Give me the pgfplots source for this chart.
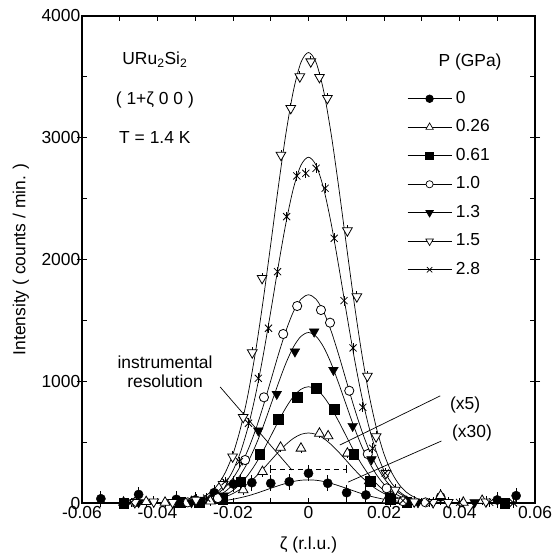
\documentclass[border=0pt]{standalone}
\usepackage{fontspec}
\setmainfont{Liberation Sans}
\usepackage{pgfplots}
\usepackage{pgfplotstable}
\pgfplotsset{compat=1.18}
\newcommand\fs{\fontsize{17.5}{19}\selectfont}

% fitted curves
\pgfplotstableread{
z      c0  c026 c061 c10  c13  c15  c28
-0.060 0   0    0    0    0    0    0
-0.034 1   2    2    4    2    6    3
-0.030 3   6    7    14   10   25   14
-0.028 5   11   12   27   18   48   28
-0.026 9   20   23   47   33   87   52
-0.024 14  32   39   80   58   152  95
-0.022 21  51   65   131  96   253  163
-0.020 31  78   104  204  153  403  267
-0.018 44  114  159  306  233  615  419
-0.016 59  160  231  439  339  896  626
-0.014 78  216  322  603  473  1249 892
-0.012 99  280  430  795  630  1666 1213
-0.010 121 349  549  1005 805  2126 1573
-0.008 142 418  670  1217 982  2595 1946
-0.006 161 480  782  1412 1147 3031 2296
-0.004 177 531  874  1571 1281 3386 2584
-0.002 187 564  934  1674 1369 3619 2774
0.000  190 575  955  1710 1400 3700 2840
0.002  187 564  934  1674 1369 3619 2774
0.004  177 531  874  1571 1281 3386 2584
0.006  161 480  782  1412 1147 3031 2296
0.008  142 418  670  1217 982  2595 1946
0.010  121 349  549  1005 805  2126 1573
0.012  99  280  430  795  630  1666 1213
0.014  78  216  322  603  473  1249 892
0.016  59  160  231  439  339  896  626
0.018  44  114  159  306  233  615  419
0.020  31  78   104  204  153  403  267
0.022  21  51   65   131  96   253  163
0.024  14  32   39   80   58   152  95
0.026  9   20   23   47   33   87   52
0.028  5   11   12   27   18   48   28
0.030  3   6    7    14   10   25   14
0.034  1   2    2    4    2    6    3
0.060  0   0    0    0    0    0    0
}\fits

\pgfplotstableread{
z I e
-0.055 35 65
-0.045 70 65
-0.035 30 65
-0.030 25 65
-0.025 85 65
-0.0199 156 65
-0.0181 175 65
-0.015 167 65
-0.010 162 65
-0.0051 175 65
0.000 244 65
0.0051 162 65
0.0101 85 65
0.0152 66 65
0.0216 30 65
0.035 50 65
0.050 25 65
0.055 60 65
}\dzero

\pgfplotstableread{
z I e
-0.049 5 40
-0.043 10 40
-0.038 5 40
-0.031 10 40
-0.026 15 40
-0.0173 107 40
-0.0122 257 40
-0.0074 457 40
-0.002 449 40
0.0029 572 40
0.0052 550 40
0.0103 408 40
0.0161 181 40
0.0207 25 40
0.026 10 40
0.035 60 40
0.041 5 40
0.046 20 40
}\dtwosix

\pgfplotstableread{
z I
-0.049 0
-0.034 5
-0.029 5
-0.0227 30
-0.018 175
-0.013 402
-0.008 687
-0.003 868
0.002 942
0.0068 770
0.0119 402
0.0163 180
0.0216 30
0.026 5
0.052 0
}\dsixone

\pgfplotstableread{
z I e
-0.046 5 30
-0.032 5 30
-0.024 40 30
-0.0168 353 30
-0.0118 868 30
-0.0067 1388 30
-0.003 1618 30
0.0033 1585 30
0.0057 1481 30
0.0108 922 30
0.0157 402 30
0.0207 121 30
0.025 15 30
0.031 5 30
}\done

\pgfplotstableread{
z I
-0.045 5
-0.031 5
-0.0225 60
-0.0133 594
-0.0084 895
-0.0036 1243
0.0015 1407
0.0066 1092
0.0117 632
0.0167 359
0.0215 60
0.029 5
0.044 5
}\dthree

\pgfplotstableread{
z I e
-0.046 5 45
-0.041 10 45
-0.036 5 45
-0.0298 25 45
-0.0226 153 45
-0.0201 380 45
-0.0173 704 45
-0.0149 1235 45
-0.0123 1846 45
-0.0073 2858 45
-0.0047 3242 45
-0.0023 3502 45
0.0006 3625 45
0.0029 3497 45
0.005 3324 45
0.0103 2237 45
0.0128 1695 45
0.0156 1043 45
0.0179 545 45
0.0205 244 45
0.023 107 45
0.028 10 45
0.033 5 45
0.037 5 45
0.047 10 45
}\dfive

\pgfplotstableread{
z I e
-0.047 5 40
-0.027 40 40
-0.0221 175 40
-0.0183 339 40
-0.0159 655 40
-0.0133 1024 40
-0.0106 1435 40
-0.0082 1900 40
-0.0058 2352 40
-0.0031 2686 40
-0.0007 2708 40
0.002 2749 40
0.0044 2585 40
0.0068 2174 40
0.0094 1662 40
0.0118 1274 40
0.0144 786 40
0.017 449 40
0.0203 246 40
0.025 20 40
0.032 5 40
0.040 5 40
0.048 5 40
0.0543 0 40
}\deight

\begin{document}
\begin{tikzpicture}
\useasboundingbox (-82bp,-55bp) rectangle (471bp,503bp);
\begin{axis}[
  scale only axis, width=453bp, height=487bp,
  xmin=-0.06, xmax=0.06, ymin=0, ymax=4000,
  clip=false,
  xtick={-0.06,-0.04,-0.02,0,0.02,0.04,0.06},
  xticklabels={-0.06,-0.04,-0.02,0,0.02,0.04,0.06},
  minor x tick num=1,
  ytick={0,500,1000,1500,2000,2500,3000,3500,4000},
  yticklabels={0,,1000,,2000,,3000,,4000},
  extra y ticks={1000,2000,3000},
  extra y tick labels={},
  extra y tick style={tick align=outside},
  tick align=inside,
  major tick length=5bp, minor tick length=5bp,
  scaled x ticks=false, scaled y ticks=false,
  /pgf/number format/assume math mode=true,
  tick label style={font=\fs},
  yticklabel style={inner sep=1.5bp},
  label style={font=\fs},
  xlabel={ζ (r.l.u.)}, ylabel={Intensity ( counts / min. )},
  xlabel style={at={(axis description cs:0.5,-0.086)}, anchor=center},
  ylabel style={at={(axis description cs:-0.135,0.5)}, anchor=center},
  axis line style={line width=1.2bp},
  every tick/.style={black, line width=1bp},
  legend style={draw=none, fill=none, font=\fs, inner sep=0pt,
    at={(axis cs:0.0261,3400)}, anchor=north west,
    row sep=9.5bp, column sep=3bp,
    nodes={inner sep=1bp, text height=13bp, text depth=4bp}},
  legend cell align=left,
  legend image code/.code={\draw[mark repeat=2,mark phase=2,#1]
    plot coordinates {(0bp,0bp) (22bp,0bp) (44bp,0bp)};},
]
% fits
\foreach \c in {c0,c026,c061,c10,c13,c15,c28}{
  \addplot[black, line width=0.7bp, smooth, forget plot] table[x=z, y=\c] {\fits};
}
% data
\addplot[only marks, mark=*, mark size=4.6bp, black, forget plot,
  error bars/.cd, y dir=both, y explicit, error mark=none,
  error bar style={line width=0.8bp}]
  table[x=z, y=I, y error=e] {\dzero};
\addplot[only marks, mark=triangle*, mark size=5.6bp, black, forget plot,
  mark options={fill=white, line width=0.8bp},
  error bars/.cd, y dir=both, y explicit, error mark=none,
  error bar style={line width=0.8bp}]
  table[x=z, y=I, y error=e] {\dtwosix};
\addplot[only marks, mark=square*, mark size=4.7bp, black, forget plot]
  table[x=z, y=I] {\dsixone};
\addplot[only marks, mark=*, mark size=4.6bp, black, forget plot,
  mark options={fill=white, line width=0.8bp},
  error bars/.cd, y dir=both, y explicit, error mark=none,
  error bar style={line width=0.8bp}]
  table[x=z, y=I, y error=e] {\done};
\addplot[only marks, mark=triangle*, mark size=5.6bp, black, forget plot,
  mark options={rotate=180}]
  table[x=z, y=I] {\dthree};
\addplot[only marks, mark=triangle*, mark size=5.6bp, black, forget plot,
  mark options={rotate=180, fill=white, line width=0.8bp},
  error bars/.cd, y dir=both, y explicit, error mark=none,
  error bar style={line width=0.8bp}]
  table[x=z, y=I, y error=e] {\dfive};
\addplot[only marks, mark=x, mark size=5bp, black, forget plot,
  mark options={line width=0.8bp},
  error bars/.cd, y dir=both, y explicit, error mark=none,
  error bar style={line width=0.8bp}]
  table[x=z, y=I, y error=e] {\deight};
% instrumental resolution
\addplot[black, dash pattern=on 5bp off 4bp, line width=0.8bp, mark=|, mark size=4bp,
  mark options={solid}, forget plot] coordinates {(-0.01,280) (0.01,280)};
% legend
\addlegendimage{black, line width=0.7bp, mark=*, mark size=3.8bp}
\addlegendentry{0}
\addlegendimage{black, line width=0.7bp, mark=triangle*, mark size=4.3bp, mark options={fill=white}}
\addlegendentry{0.26}
\addlegendimage{black, line width=0.7bp, mark=square*, mark size=3.8bp}
\addlegendentry{0.61}
\addlegendimage{black, line width=0.7bp, mark=*, mark size=3.6bp, mark options={fill=white}}
\addlegendentry{1.0}
\addlegendimage{black, line width=0.7bp, mark=triangle*, mark size=4.3bp, mark options={rotate=180}}
\addlegendentry{1.3}
\addlegendimage{black, line width=0.7bp, mark=triangle*, mark size=4.3bp, mark options={rotate=180, fill=white}}
\addlegendentry{1.5}
\addlegendimage{black, line width=0.7bp, mark=x, mark size=3.8bp}
\addlegendentry{2.8}
% annotations
\node[font=\fs] at (axis cs:-0.0407,3639) {URu\textsubscript{2}Si\textsubscript{2}};
\node[font=\fs] at (axis cs:-0.0407,3310) {( 1+ζ 0 0 )};
\node[font=\fs] at (axis cs:-0.0407,3006) {T = 1.4 K};
\node[font=\fs] at (axis cs:0.0428,3622) {P (GPa)};
\node[font=\fs, align=center] at (axis cs:-0.038,1076) {instrumental\\resolution};
\draw[line width=0.7bp] (axis cs:-0.0234,953) -- (axis cs:-0.0044,271);
\node[font=\fs] at (axis cs:0.0415,805) {(x5)};
\draw[line width=0.7bp] (axis cs:0.0349,880) -- (axis cs:0.0083,476);
\node[font=\fs] at (axis cs:0.0433,575) {(x30)};
\draw[line width=0.7bp] (axis cs:0.0352,509) -- (axis cs:0.0105,172);
\end{axis}
\end{tikzpicture}
\end{document}
